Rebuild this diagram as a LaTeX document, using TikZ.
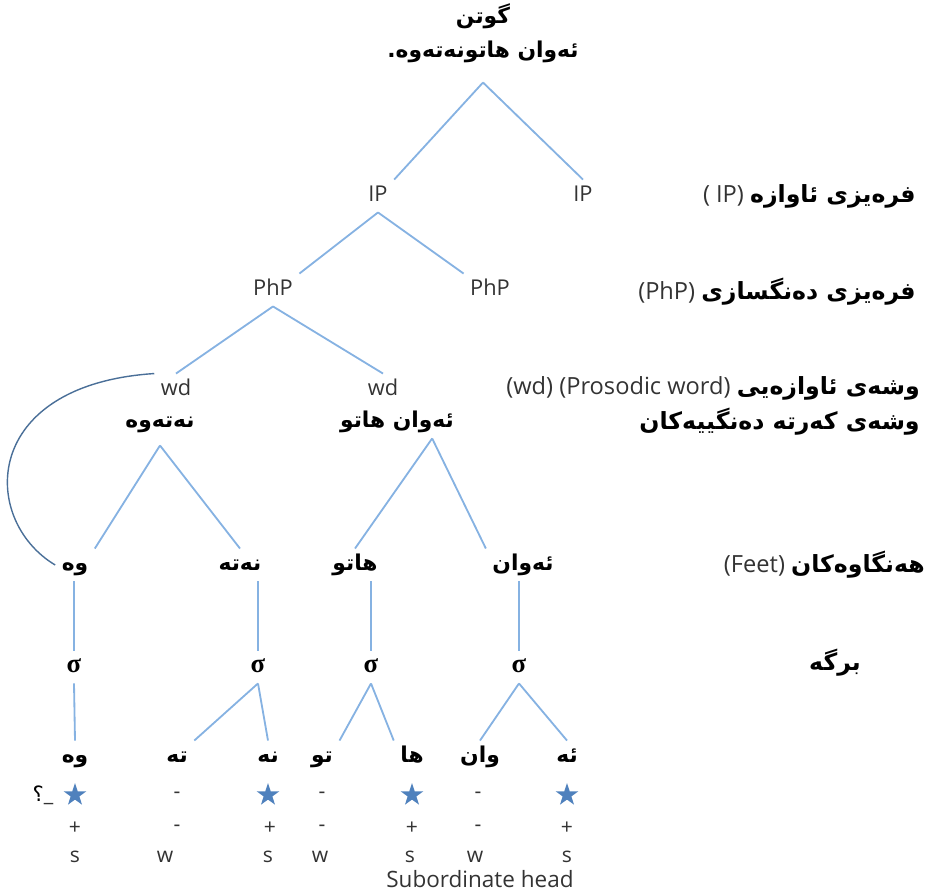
\documentclass[tikz,border=0pt]{standalone}
\usepackage{fontspec}
\setmainfont{Open Sans}
\newfontfamily\arabicfont[Script=Arabic]{DejaVu Sans}
\newfontfamily\greekfont{Liberation Serif}
\TeXXeTstate=1
\usetikzlibrary{shapes.geometric}

\definecolor{branchblue}{HTML}{86B2E2}
\definecolor{loopblue}{HTML}{4A6F98}
\definecolor{starblue}{HTML}{4F81BD}
\definecolor{latingray}{HTML}{333333}

\newcommand{\kur}[1]{{\color{black}\arabicfont\bfseries\beginR #1\endR}}
\newcommand{\syl}{{\color{black}\greekfont\bfseries\fontsize{19}{21}\selectfont σ}}

\begin{document}
\begin{tikzpicture}[x=0.025cm, y=-0.025cm,
    tnode/.style={text height=11pt, text depth=3pt, inner sep=4.5pt,
      font=\fontsize{15.5}{18}\selectfont, text=latingray},
    branch/.style={draw=branchblue, line width=1.3pt},
    lvl/.style={anchor=east, inner sep=0pt,
      font=\fontsize{16.8}{19}\selectfont, text=latingray},
    starmark/.style={star, star points=5, star point ratio=2.6,
      fill=starblue, minimum size=17pt, inner sep=0pt},
    rowmark/.style={inner sep=1pt, font=\fontsize{15}{18}\selectfont, text=latingray}]
  \useasboundingbox (0,0) rectangle (929,892);

  % sentence
  \node[tnode] (say) at (483,18) {\kur{گوتن}};
  \node[tnode] (root) at (483,52) {\kur{ئەوان هاتونەتەوە.}};

  % prosodic levels
  \node[tnode] (ipL) at (378,196) {IP};
  \node[tnode] (ipR) at (583,196) {IP};
  \node[tnode] (phpL) at (273,290) {PhP};
  \node[tnode] (phpR) at (490,290) {PhP};
  \node[tnode] (wdL) at (176,390) {wd};
  \node[tnode] (wdR) at (383,390) {wd};
  \node[tnode] (wordL) at (160,422) {\kur{نەتەوە}};
  \node[tnode] (wordR) at (397,422) {\kur{ئەوان هاتو}};

  % feet
  \node[tnode] (footA) at (75,565) {\kur{وە}};
  \node[tnode] (footB) at (240,565) {\kur{نەتە}};
  \node[tnode] (footC) at (355,565) {\kur{هاتو}};
  \node[tnode] (footD) at (523,565) {\kur{ئەوان}};

  % syllables
  \node[tnode] (sigA) at (74,667) {\syl};
  \node[tnode] (sigB) at (258,667) {\syl};
  \node[tnode] (sigC) at (371,667) {\syl};
  \node[tnode] (sigD) at (519,667) {\syl};

  \node[tnode] (sylA) at (75,757) {\kur{وە}};
  \node[tnode] (sylB) at (177,757) {\kur{تە}};
  \node[tnode] (sylC) at (268,757) {\kur{نە}};
  \node[tnode] (sylD) at (322,757) {\kur{تو}};
  \node[tnode] (sylE) at (412,757) {\kur{ها}};
  \node[tnode] (sylF) at (480,757) {\kur{وان}};
  \node[tnode] (sylG) at (567,757) {\kur{ئە}};

  % branches
  \draw[branch] ([yshift=-10pt]root.south) -- (ipL.north east);
  \draw[branch] ([yshift=-10pt]root.south) -- (ipR.north);
  \draw[branch] (ipL.south) -- (phpL.north east);
  \draw[branch] (ipL.south) -- (phpR.north west);
  \draw[branch] (phpL.south) -- (wdL.north);
  \draw[branch] (phpL.south) -- (wdR.north);
  \draw[branch] ([yshift=-5pt]wordL.south) -- (footA.north east);
  \draw[branch] ([yshift=-5pt]wordL.south) -- (footB.north);
  \draw[branch] ([xshift=25pt]wordR.south) -- (footC.north);
  \draw[branch] ([xshift=25pt]wordR.south) -- (footD.north west);
  \draw[branch] (sigA.north |- footA.south) -- (sigA.north);
  \draw[branch] (sigB.north |- footB.south) -- (sigB.north);
  \draw[branch] (sigC.north |- footC.south) -- (sigC.north);
  \draw[branch] (sigD.north |- footD.south) -- (sigD.north);
  \draw[branch] (sigA.south) -- (sylA.north);
  \draw[branch] (sigB.south) -- (sylB.north east);
  \draw[branch] (sigB.south) -- (sylC.north);
  \draw[branch] (sigC.south) -- (sylD.north east);
  \draw[branch] (sigC.south) -- (sylE.north west);
  \draw[branch] (sigD.south) -- (sylF.north);
  \draw[branch] (sigD.south) -- (sylG.north);

  % foot linked back to the word
  \draw[loopblue, line width=1pt] (footA.west) .. controls (-20,520) and (-20,385) .. (wdL.north west);

  % stress marks
  \node[rowmark] (qmark) at (43,795) {{\color{black}\arabicfont ؟}\_};
  \node[starmark] (starA) at (75,795) {};
  \node[rowmark] (dashB) at (177,795) {-};
  \node[starmark] (starC) at (268,795) {};
  \node[rowmark] (dashD) at (322,795) {-};
  \node[starmark] (starE) at (412,795) {};
  \node[rowmark] (dashF) at (478,795) {-};
  \node[starmark] (starG) at (567,795) {};

  \node[rowmark] (plusA) at (75,828) {+};
  \node[rowmark] (minusB) at (177,828) {-};
  \node[rowmark] (plusC) at (270,828) {+};
  \node[rowmark] (minusD) at (322,828) {-};
  \node[rowmark] (plusE) at (412,828) {+};
  \node[rowmark] (minusF) at (478,828) {-};
  \node[rowmark] (plusG) at (567,828) {+};

  \node[rowmark] (strongA) at (75,857) {s};
  \node[rowmark] (weakB) at (165,857) {w};
  \node[rowmark] (strongC) at (268,857) {s};
  \node[rowmark] (weakD) at (320,857) {w};
  \node[rowmark] (strongE) at (410,857) {s};
  \node[rowmark] (weakF) at (475,857) {w};
  \node[rowmark] (strongG) at (567,857) {s};
  \node[rowmark, font=\fontsize{16}{18}\selectfont] (subhead) at (480,879) {Subordinate head};

  % level names
  \node[lvl] (ipName) at (916,196) {( IP) \kur{فرەیزی ئاوازە}};
  \node[lvl] (phpName) at (916,292) {(PhP) \kur{فرەیزی دەنگسازی}};
  \node[lvl] (wdName) at (920,388) {(wd) (Prosodic word) \kur{وشەی ئاوازەیی}};
  \node[lvl] (segName) at (920,422) {\kur{وشەی کەرتە دەنگییەکان}};
  \node[lvl] (feetName) at (925,565) {(Feet) \kur{هەنگاوەکان}};
  \node[lvl, anchor=center] (sylName) at (835,663) {\kur{برگە}};
\end{tikzpicture}
\end{document}
